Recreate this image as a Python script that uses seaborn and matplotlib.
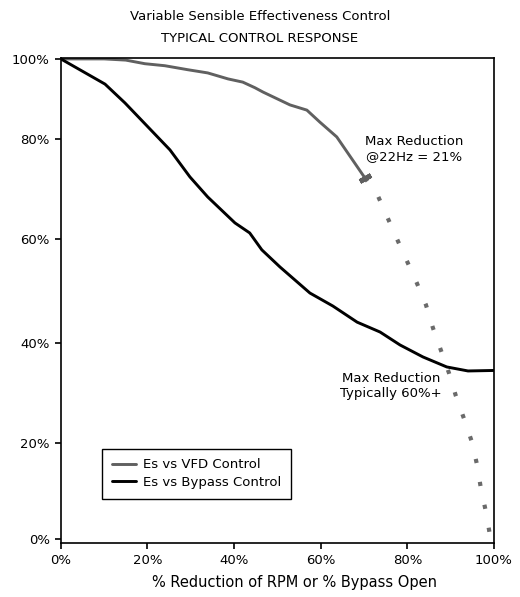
import numpy as np
import matplotlib
matplotlib.use("Agg")
import matplotlib.pyplot as plt
import seaborn as sns
from matplotlib.ticker import PercentFormatter

# ── 0. DATA ────────────────────────────────────────────────────────
vfd_x = [0, 10, 15, 19.4, 24, 29.3, 33.9, 38.6, 42, 44.8, 46.7, 52.9, 56.8, 59.8, 63.7, 70.2]
vfd_y = [100, 100, 99.7, 98.8, 98.3, 97.3, 96.5, 95.0, 94.2, 92.8, 91.7, 88.5, 87.2, 84.2, 80.5, 72.2]

bypass_x = [0, 10.2, 14.8, 25.2, 29.8, 33.9, 40.2, 43.6, 46.4, 50.6, 57.5,
            62.8, 68.4, 73.7, 78.3, 83.6, 89.1, 94.0, 100]
bypass_y = [100, 93.7, 89.0, 77.8, 72.4, 68.4, 63.2, 61.2, 57.9, 54.6, 49.6,
            47.1, 44.0, 42.1, 39.6, 37.2, 35.2, 34.4, 34.5]

# extrapolated VFD response past the 22Hz limit (dotted)
tail_x = [70.2, 73.0, 77.6, 82.2, 84.3, 85.9, 87.8, 89.6, 91.2, 93.1, 94.9, 96.1, 97.0, 98.2, 99.1]
tail_y = [72.2, 69.0, 60.0, 51.5, 47.3, 42.9, 38.4, 34.0, 29.4, 24.8, 20.2, 15.4, 10.4, 5.4, 0.6]

labels = ["Es vs VFD Control", "Es vs Bypass Control"]
pct_ticks = [0, 20, 40, 60, 80, 100]

# ── 1. STYLE ───────────────────────────────────────────────────────
sns.set_style("white")
plt.rcParams['font.family'] = ['DejaVu Sans']
plt.rcParams['text.color'] = 'black'
plt.rcParams['xtick.color'] = 'black'
plt.rcParams['ytick.color'] = 'black'

fig, ax = plt.subplots(figsize=(5.2, 5.97), dpi=100)
fig.subplots_adjust(left=0.117, right=0.95, bottom=0.0905, top=0.903)

# the original y axis is not evenly spaced (top band is squeezed)
y_breaks = [-100, 0, 20, 40, 60, 80, 100, 200]
y_pixels = [-480, 0, 96, 196, 300, 400, 480, 880]
ax.set_yscale('function', functions=(lambda v: np.interp(v, y_breaks, y_pixels),
                                     lambda p: np.interp(p, y_pixels, y_breaks)))

# ── 2. LINES ───────────────────────────────────────────────────────
gray = '#606060'
sns.lineplot(x=vfd_x, y=vfd_y, ax=ax, color=gray, lw=2.1, label=labels[0])
sns.lineplot(x=bypass_x, y=bypass_y, ax=ax, color='black', lw=2.1, label=labels[1])
sns.lineplot(x=tail_x, y=tail_y, ax=ax, color='#6a6a6a', lw=3,
             linestyle=(0, (1, 4.6)))
# end cap on the VFD curve at 22Hz
sns.lineplot(x=vfd_x[-1:], y=vfd_y[-1:], ax=ax, linestyle='none',
             marker=(2, 2, -61), ms=9, mew=3.5, mec=gray, color=gray)

# ── 3. AXES ────────────────────────────────────────────────────────
ax.set_xlim(0, 100)
ax.set_ylim(-0.83, 100.25)
ax.set_xticks(pct_ticks)
ax.set_yticks(pct_ticks)
ax.xaxis.set_major_formatter(PercentFormatter(xmax=100, decimals=0))
ax.yaxis.set_major_formatter(PercentFormatter(xmax=100, decimals=0))
ax.yaxis.set_minor_locator(matplotlib.ticker.NullLocator())
ax.tick_params(direction='out', length=4, width=1.2, color='black', labelcolor='black',
               labelsize=9.5, left=True, bottom=True, pad=4)
for sp in ax.spines.values():
    sp.set_visible(True)
    sp.set_color('black')
    sp.set_linewidth(1.2)
ax.set_xlabel("")
ax.set_ylabel("")

# ── 4. TEXT ────────────────────────────────────────────────────────
fig.text(0.5, 1 - 17 / 597, "Variable Sensible Effectiveness Control",
         ha='center', va='center', fontsize=9.5, color='black')
fig.text(0.5, 1 - 38 / 597, "TYPICAL CONTROL RESPONSE",
         ha='center', va='center', fontsize=9.5, color='black')
fig.text(294 / 520, 1 - 582 / 597, "% Reduction of RPM or % Bypass Open",
         ha='center', va='center', fontsize=10.5, color='black')

ax.text(81.6, 78, "Max Reduction\n@22Hz = 21%", ha='center', va='center',
        fontsize=9.5, linespacing=1.25, color='black')
ax.text(76.2, 31.4, "Max Reduction\nTypically 60%+", ha='center', va='center',
        fontsize=9.5, linespacing=1.25, color='black')

leg = ax.legend(loc='lower left', bbox_to_anchor=(0.0947, 0.0907), borderaxespad=0,
                fontsize=9.5, handlelength=1.8, handletextpad=0.55, borderpad=0.75,
                labelspacing=0.35, fancybox=False, framealpha=1)
leg.get_frame().set_edgecolor('black')
leg.get_frame().set_linewidth(1)
for t in leg.get_texts():
    t.set_color('black')

plt.savefig("out.png", dpi=100)
